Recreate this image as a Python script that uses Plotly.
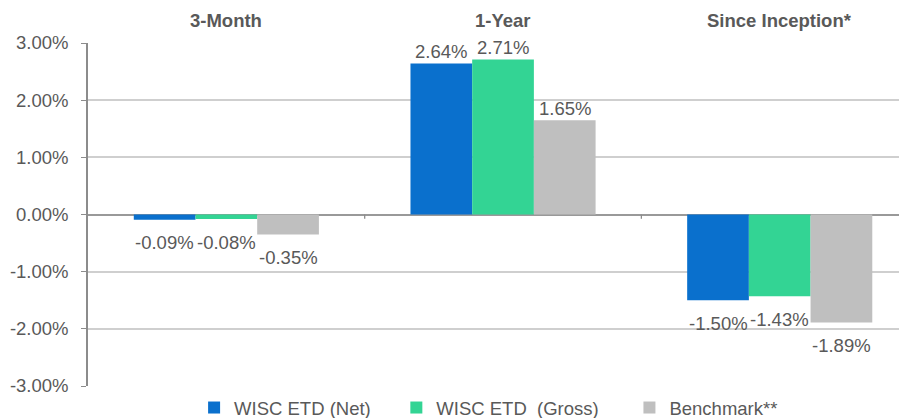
import plotly.graph_objects as go

categories = ["3-Month", "1-Year", "Since Inception*"]
series_names = ["WISC ETD (Net)" + "\u00a0" * 4, "WISC ETD \u00a0(Gross)" + "\u00a0" * 5, "Benchmark**"]
net_values = [-0.09, 2.64, -1.50]
gross_values = [-0.08, 2.71, -1.43]
bench_values = [-0.35, 1.65, -1.89]
y_ticks = [-3, -2, -1, 0, 1, 2, 3]
y_tick_labels = ["-3.00%", "-2.00%", "-1.00%", "0.00%", "1.00%", "2.00%", "3.00%"]

colors = ["#0A70CD", "#33D494", "#BFBFBF"]
text_color = "#595959"
font_family = "Liberation Sans, Arial, sans-serif"
fs = 18.5
bargap = 0.331
n_series = 3
bar_w = (1 - bargap) / n_series

fig = go.Figure()
all_vals = [net_values, gross_values, bench_values]
for name, vals, col in zip(series_names, all_vals, colors):
    fig.add_trace(go.Bar(
        x=categories, y=vals, name=name,
        marker=dict(color=col, line=dict(width=0)),
        cliponaxis=False,
    ))

# data labels placed at each bar's end through the axes
for i, vals in enumerate(all_vals):
    for j, v in enumerate(vals):
        fig.add_annotation(
            x=j + (i - (n_series - 1) / 2) * bar_w, y=v, xref="x", yref="y",
            text=f"{v:.2f}%", showarrow=False, yanchor="middle", xanchor="center",
            yshift=12 if v >= 0 else -23,
            font=dict(size=fs, color=text_color, family=font_family))

for c in categories:
    fig.add_annotation(x=c, y=1.067, xref="x", yref="paper", text=f"<b>{c}</b>",
                       showarrow=False, yanchor="middle",
                       font=dict(size=fs, color=text_color, family=font_family))

# category separator ticks on the zero line
for b in [0.5, 1.5]:
    fig.add_shape(type="line", xref="x", yref="y", x0=b, x1=b, y0=0, y1=-0.075,
                  line=dict(color="#8C8C8C", width=1.3))

fig.update_layout(
    width=899, height=410,
    margin=dict(l=80, r=0, t=35, b=32, autoexpand=False),
    paper_bgcolor="white", plot_bgcolor="white",
    barmode="group", bargap=bargap, bargroupgap=0,
    font=dict(family=font_family, size=fs, color=text_color),
    legend=dict(orientation="h", xref="container", yref="container",
                x=0.207, xanchor="left", y=0.0244, yanchor="middle",
                font=dict(size=fs, color=text_color), itemclick=False,
                traceorder="normal"),
    showlegend=True,
)
fig.update_xaxes(type="category", range=[-0.5, 2.46], showticklabels=False,
                 showgrid=False, showline=False, ticks="", zeroline=False,
                 automargin=False)
fig.update_yaxes(range=[-3, 3], tickvals=y_ticks, ticktext=y_tick_labels,
                 showgrid=True, gridcolor="#CFCFCF", gridwidth=1.5,
                 zeroline=True, zerolinecolor="#999999", zerolinewidth=1.6,
                 showline=True, linecolor="#8C8C8C", linewidth=1.6,
                 ticks="outside", ticklen=5, tickcolor="#8C8C8C",
                 ticklabelstandoff=9, automargin=False,
                 tickfont=dict(size=fs, color=text_color, family=font_family))

fig.write_html("out.html")
